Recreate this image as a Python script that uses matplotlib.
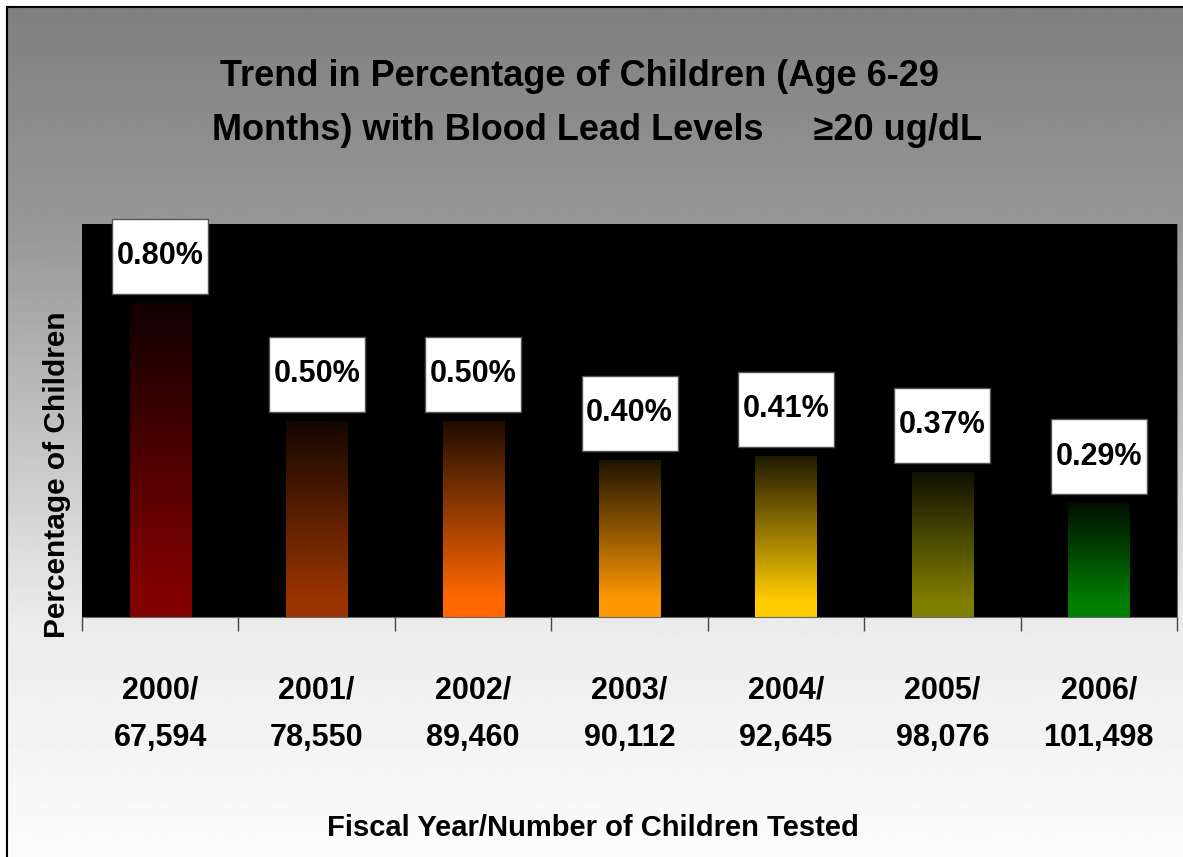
import numpy as np
import matplotlib.pyplot as plt
from matplotlib.patches import Rectangle
from matplotlib.colors import to_rgb

# data
years = ['2000', '2001', '2002', '2003', '2004', '2005', '2006']
tested = ['67,594', '78,550', '89,460', '90,112', '92,645', '98,076', '101,498']
pct = [0.80, 0.50, 0.50, 0.40, 0.41, 0.37, 0.29]
bar_colors = ['#800000', '#993300', '#FF6600', '#FF9900', '#FFCC00', '#808000', '#008000']

plt.rcParams['font.family'] = ['Liberation Sans', 'DejaVu Sans']
plt.rcParams['font.weight'] = 'bold'

W, H = 1183, 857
fig = plt.figure(figsize=(W / 100, H / 100), dpi=100)

# grey-to-white background with a frame on the left/top
bg = fig.add_axes([7 / W, -0.01, 1, 1 - 7 / H + 0.01], zorder=-10)
shade = np.interp(np.linspace(0, 1, 400), [0, 0.27, 0.71, 1], [0.5, 0.6, 0.92, 0.99])
bg.imshow(shade[:, None], cmap='gray', vmin=0, vmax=1, aspect='auto',
          extent=[0, 1, 0, 1], origin='upper')
bg.set_xlim(0, 1)
bg.set_ylim(0, 1)
bg.set_xticks([])
bg.set_yticks([])
for s in ['right', 'bottom']:
    bg.spines[s].set_visible(False)
for s in ['left', 'top']:
    bg.spines[s].set_linewidth(1.5)

# plot area
ax = fig.add_axes([82 / W, 1 - 617 / H, 1095 / W, 393 / H])
ax.set_facecolor('black')
x = np.arange(len(years))
bw = 0.39
bars = ax.bar(x, pct, width=bw, color='none', edgecolor='none')

for b, c in zip(bars, bar_colors):
    rgb = np.array(to_rgb(c))
    t = np.clip(np.linspace(0.12, 1.1, 200), 0, 1)  # dark at top -> full colour at bottom
    grad = t[:, None, None] * rgb[None, None, :]
    im = ax.imshow(grad, aspect='auto', origin='upper', zorder=2,
                   extent=[b.get_x(), b.get_x() + b.get_width(), 0, b.get_height()])
    im.set_clip_path(b)

ax.set_xlim(-0.5, len(years) - 0.5)
ax.set_ylim(0, 1.0)

# value labels in white boxes
px_y = 393 / 1.0
px_x = 1095 / len(years)
bh = 75 / px_y
bwid = 96 / px_x
for xi, v in zip(x, pct):
    y0 = v + 9 / px_y
    ax.add_patch(Rectangle((xi - bwid / 2, y0), bwid, bh, facecolor='white',
                           edgecolor='#555555', lw=1, clip_on=False, zorder=5))
    ax.text(xi, y0 + bh / 2, f'{v:.2f}%', ha='center', va='center',
            fontsize=22, weight='bold', zorder=6, clip_on=False)

ax.set_yticks([])
ax.set_xticks(x, labels=[f'{y}/\n{t}' for y, t in zip(years, tested)])
ax.tick_params(axis='x', which='major', length=0, pad=42, labelsize=22)
for lab in ax.get_xticklabels():
    lab.set_linespacing(1.75)
ax.set_xticks(np.arange(-0.5, len(years), 1), minor=True)
ax.tick_params(axis='x', which='minor', length=10, color='#444444', width=1)
for s in ['left', 'top']:
    ax.spines[s].set_visible(False)
ax.spines['bottom'].set_color('#666666')
ax.spines['right'].set_color('#666666')

# titles and axis labels
fig.text(579 / W, 1 - 77 / H, 'Trend in Percentage of Children (Age 6-29',
         ha='center', va='center', fontsize=26, weight='bold')
fig.text(597 / W, 1 - 130 / H, 'Months) with Blood Lead Levels     \u226520 ug/dL',
         ha='center', va='center', fontsize=26, weight='bold')
fig.text(57 / W, 1 - 475 / H, 'Percentage of Children', rotation=90,
         ha='center', va='center', fontsize=21.5, weight='bold')
fig.text(593 / W, 1 - 828 / H, 'Fiscal Year/Number of Children Tested',
         ha='center', va='center', fontsize=21, weight='bold')

fig.savefig('out.png', dpi=100)
